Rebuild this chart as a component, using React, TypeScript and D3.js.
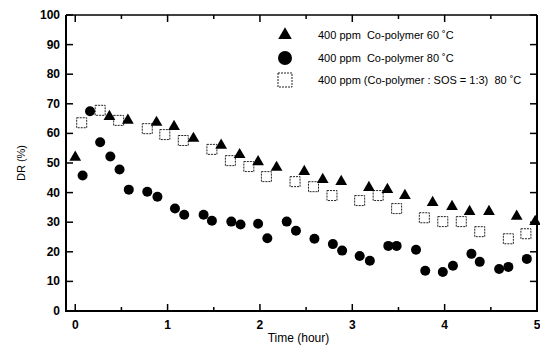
import React, { useEffect, useRef } from "react";
import * as d3 from "d3";

// DR (%) vs time (hour)
const tri60 = [
  [0.0, 51.9], [0.37, 65.7], [0.57, 64.4], [0.88, 63.7], [1.07, 62.3], [1.28, 58.3],
  [1.58, 56.0], [1.78, 52.8], [1.98, 50.4], [2.18, 48.5], [2.48, 47.1], [2.68, 44.4],
  [2.88, 43.7], [3.18, 41.7], [3.38, 41.0], [3.57, 39.0], [3.87, 36.6], [4.08, 35.3],
  [4.27, 33.6], [4.48, 33.6], [4.78, 32.0], [4.98, 30.2],
];
const circ80 = [
  [0.08, 45.8], [0.16, 67.5], [0.27, 57.0], [0.38, 52.2], [0.48, 47.8], [0.58, 41.0],
  [0.78, 40.3], [0.89, 38.6], [1.08, 34.6], [1.18, 32.5], [1.39, 32.5], [1.48, 30.5],
  [1.69, 30.2], [1.79, 29.2], [1.98, 29.5], [2.08, 24.6], [2.29, 30.2], [2.39, 27.1],
  [2.59, 24.4], [2.79, 22.6], [2.89, 20.4], [3.08, 18.6], [3.19, 17.0], [3.39, 22.0],
  [3.48, 22.0], [3.69, 20.7], [3.79, 13.6], [3.98, 13.2], [4.09, 15.3], [4.29, 19.3],
  [4.38, 16.6], [4.59, 14.2], [4.69, 14.9], [4.89, 17.6],
];
const sq80 = [
  [0.07, 63.6], [0.27, 67.8], [0.47, 64.4], [0.78, 61.6], [0.97, 59.6], [1.17, 57.6],
  [1.48, 54.6], [1.68, 50.8], [1.88, 48.8], [2.07, 45.4], [2.38, 43.7], [2.58, 42.0],
  [2.78, 39.0], [3.08, 37.3], [3.28, 39.0], [3.48, 34.6], [3.78, 31.5], [3.98, 30.2],
  [4.18, 30.2], [4.38, 26.8], [4.69, 24.4], [4.88, 26.1],
];
const legendLabels = [
  "400 ppm  Co-polymer 60 \u02DAC",
  "400 ppm  Co-polymer 80 \u02DAC",
  "400 ppm (Co-polymer : SOS = 1:3)  80 \u02DAC",
];
const xTicks = [0, 1, 2, 3, 4, 5];
const xMinor = [0.5, 1.5, 2.5, 3.5, 4.5];
const yTicks = [0, 10, 20, 30, 40, 50, 60, 70, 80, 90, 100];

function App() {
  const svgRef = useRef<SVGSVGElement>(null);
  const width = 540;
  const height = 346;

  useEffect(() => {
    const svg = d3.select(svgRef.current);
    svg.selectAll("*").remove();

    const margin = { top: 15, right: 3, bottom: 35, left: 66 };
    const font = "Liberation Sans, Arial, sans-serif";

    const x = d3.scaleLinear().domain([-0.1, 5]).range([margin.left, width - margin.right]);
    const y = d3.scaleLinear().domain([0, 100]).range([height - margin.bottom, margin.top]);

    const [x0, x1] = x.range();
    const [y0, y1] = y.range();

    // frame
    svg.append("line").attr("x1", x0).attr("x2", x0).attr("y1", y0 + 1).attr("y2", y1).attr("stroke", "#000").attr("stroke-width", 2);
    svg.append("line").attr("x1", x0).attr("x2", x1).attr("y1", y0).attr("y2", y0).attr("stroke", "#000").attr("stroke-width", 2);
    svg.append("line").attr("x1", x1).attr("x2", x1).attr("y1", y0 + 1).attr("y2", y1).attr("stroke", "#000").attr("stroke-width", 2);
    svg.append("line").attr("x1", x0).attr("x2", x1).attr("y1", y1).attr("y2", y1).attr("stroke", "#000").attr("stroke-width", 1.5);

    // ticks on all four sides, pointing inward
    const g = svg.append("g").attr("stroke", "#000").attr("stroke-width", 1.5);
    xTicks.forEach((t) => {
      g.append("line").attr("x1", x(t)).attr("x2", x(t)).attr("y1", y0).attr("y2", y0 - 7);
      g.append("line").attr("x1", x(t)).attr("x2", x(t)).attr("y1", y1).attr("y2", y1 + 7);
    });
    xMinor.forEach((t) => {
      g.append("line").attr("x1", x(t)).attr("x2", x(t)).attr("y1", y0).attr("y2", y0 - 4);
      g.append("line").attr("x1", x(t)).attr("x2", x(t)).attr("y1", y1).attr("y2", y1 + 4);
    });
    yTicks.forEach((v) => {
      g.append("line").attr("x1", x0).attr("x2", x0 + 7).attr("y1", y(v)).attr("y2", y(v));
      g.append("line").attr("x1", x1).attr("x2", x1 - 7).attr("y1", y(v)).attr("y2", y(v));
    });

    // tick labels
    svg.append("g").selectAll("text").data(xTicks).join("text")
      .attr("x", (d) => x(d)).attr("y", y0 + 18)
      .attr("text-anchor", "middle")
      .style("font-family", font).style("font-size", "12px").style("font-weight", "bold")
      .text((d) => d);
    svg.append("g").selectAll("text").data(yTicks).join("text")
      .attr("x", x0 - 6).attr("y", (d) => y(d) + 4)
      .attr("text-anchor", "end")
      .style("font-family", font).style("font-size", "12px").style("font-weight", "bold")
      .text((d) => d);

    // axis titles
    svg.append("text")
      .attr("x", (x0 + x1) / 2 - 3).attr("y", height - 4)
      .attr("text-anchor", "middle")
      .style("font-family", font).style("font-size", "12px")
      .text("Time (hour)");
    svg.append("text")
      .attr("transform", `translate(25,${(y0 + y1) / 2}) rotate(-90)`)
      .attr("text-anchor", "middle")
      .style("font-family", font).style("font-size", "11px")
      .text("DR (%)");

    const triPath = d3.symbol().type(d3.symbolTriangle).size(60);
    const triBig = d3.symbol().type(d3.symbolTriangle).size(80);

    // series
    svg.append("g").selectAll("rect").data(sq80).join("rect")
      .attr("x", (d) => x(d[0]) - 5).attr("y", (d) => y(d[1]) - 5)
      .attr("width", 10).attr("height", 10)
      .attr("fill", "#fff").attr("stroke", "#222").attr("stroke-width", 1)
      .attr("stroke-dasharray", "2,1");
    svg.append("g").selectAll("circle").data(circ80).join("circle")
      .attr("cx", (d) => x(d[0])).attr("cy", (d) => y(d[1])).attr("r", 5)
      .attr("fill", "#000");
    svg.append("g").selectAll("path").data(tri60).join("path")
      .attr("d", triPath)
      .attr("transform", (d) => `translate(${x(d[0])},${y(d[1])})`)
      .attr("fill", "#000");

    // legend
    const lg = svg.append("g");
    const lx = 285;
    const ly = [35, 58, 80];
    lg.append("path").attr("d", triBig).attr("transform", `translate(${lx},${ly[0]})`).attr("fill", "#000");
    lg.append("circle").attr("cx", lx).attr("cy", ly[1]).attr("r", 7).attr("fill", "#000");
    lg.append("rect").attr("x", lx - 7).attr("y", ly[2] - 7).attr("width", 14).attr("height", 14)
      .attr("fill", "#fff").attr("stroke", "#222").attr("stroke-dasharray", "2,1");
    lg.selectAll("text").data(legendLabels).join("text")
      .attr("x", 318).attr("y", (d, i) => ly[i] + 4)
      .style("font-family", font).style("font-size", "11px").style("white-space", "pre")
      .text((d) => d);
  }, []);

  return <svg ref={svgRef} width={width} height={height} style={{ position: "absolute", left: 0, top: 0 }}></svg>;
}

export default App;
